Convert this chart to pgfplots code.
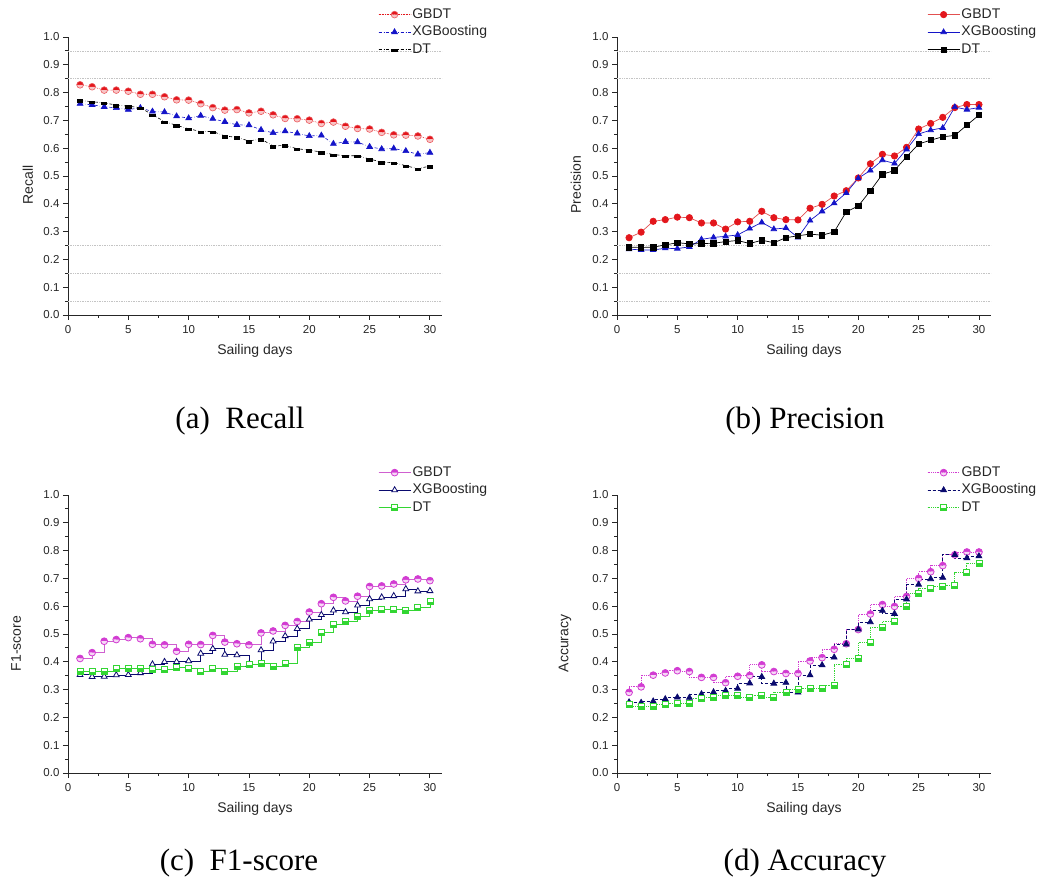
\documentclass[border=0pt]{standalone}
\usepackage{pgfplots}
\pgfplotsset{compat=1.18}
\usepackage{pgfplotstable}
\usetikzlibrary{plotmarks}
\usepackage{fontspec}
\setmainfont{Liberation Sans}
\newfontfamily\capfont{Liberation Serif}

\definecolor{aRed}{HTML}{E3161C}
\definecolor{aBlue}{HTML}{1414C8}
\definecolor{bRedLine}{HTML}{E25050}
\definecolor{mag}{HTML}{D23CD2}
\definecolor{magLine}{HTML}{D060D0}
\definecolor{navy}{HTML}{0A0A6E}
\definecolor{grn}{HTML}{33D633}
\definecolor{bandgray}{HTML}{C4C4C4}

% half-filled square: lower half filled with the fill colour, upper half white
\pgfdeclareplotmark{hsq}{%
  \pgfpathrectangle{\pgfqpoint{-\pgfplotmarksize}{-\pgfplotmarksize}}{\pgfqpoint{2\pgfplotmarksize}{\pgfplotmarksize}}%
  \pgfusepathqfill
  \begin{pgfscope}\pgfsetfillcolor{white}%
  \pgfpathrectangle{\pgfqpoint{-\pgfplotmarksize}{0pt}}{\pgfqpoint{2\pgfplotmarksize}{\pgfplotmarksize}}%
  \pgfusepathqfill\end{pgfscope}%
  \pgfpathrectangle{\pgfqpoint{-\pgfplotmarksize}{-\pgfplotmarksize}}{\pgfqpoint{2\pgfplotmarksize}{2\pgfplotmarksize}}%
  \pgfusepathqstroke
}
% filled bar (lower part of a square)
\pgfdeclareplotmark{hbar}{%
  \pgfpathrectangle{\pgfqpoint{-\pgfplotmarksize}{-0.8\pgfplotmarksize}}{\pgfqpoint{2\pgfplotmarksize}{1.1\pgfplotmarksize}}%
  \pgfusepathqfill
}

\pgfplotstableread{
x g xg d
1 0.828 0.760 0.772
2 0.821 0.756 0.767
3 0.809 0.749 0.763
4 0.809 0.745 0.755
5 0.805 0.739 0.751
6 0.794 0.745 0.746
7 0.794 0.732 0.720
8 0.785 0.730 0.696
9 0.774 0.715 0.682
10 0.773 0.708 0.670
11 0.760 0.717 0.660
12 0.746 0.706 0.660
13 0.737 0.695 0.644
14 0.739 0.684 0.639
15 0.727 0.683 0.626
16 0.733 0.666 0.633
17 0.720 0.655 0.608
18 0.707 0.661 0.610
19 0.706 0.653 0.598
20 0.701 0.644 0.593
21 0.689 0.646 0.586
22 0.694 0.616 0.577
23 0.679 0.623 0.573
24 0.671 0.622 0.573
25 0.669 0.605 0.561
26 0.657 0.597 0.550
27 0.648 0.599 0.548
28 0.647 0.590 0.537
29 0.644 0.578 0.526
30 0.632 0.584 0.536
}\recall

\pgfplotstableread{
x g xg d
1 0.278 0.237 0.244
2 0.298 0.234 0.243
3 0.337 0.234 0.244
4 0.343 0.240 0.252
5 0.352 0.239 0.260
6 0.350 0.245 0.256
7 0.331 0.272 0.257
8 0.331 0.279 0.258
9 0.309 0.283 0.264
10 0.335 0.288 0.268
11 0.337 0.311 0.257
12 0.373 0.333 0.269
13 0.350 0.309 0.260
14 0.343 0.313 0.278
15 0.342 0.279 0.285
16 0.384 0.340 0.291
17 0.398 0.373 0.287
18 0.428 0.402 0.299
19 0.447 0.439 0.371
20 0.493 0.492 0.392
21 0.544 0.520 0.447
22 0.578 0.557 0.506
23 0.572 0.545 0.520
24 0.603 0.596 0.569
25 0.669 0.651 0.615
26 0.689 0.665 0.629
27 0.711 0.673 0.641
28 0.746 0.748 0.646
29 0.757 0.739 0.683
30 0.757 0.746 0.719
}\precision

\pgfplotstableread{
x g xg d
1 0.412 0.353 0.366
2 0.433 0.346 0.364
3 0.474 0.347 0.366
4 0.480 0.352 0.375
5 0.487 0.353 0.378
6 0.483 0.360 0.378
7 0.463 0.391 0.372
8 0.461 0.400 0.372
9 0.438 0.400 0.379
10 0.463 0.403 0.375
11 0.462 0.430 0.364
12 0.495 0.447 0.375
13 0.471 0.426 0.366
14 0.465 0.424 0.384
15 0.461 0.390 0.389
16 0.504 0.442 0.396
17 0.511 0.474 0.385
18 0.531 0.493 0.393
19 0.545 0.519 0.452
20 0.579 0.553 0.470
21 0.609 0.569 0.505
22 0.632 0.585 0.533
23 0.619 0.579 0.545
24 0.636 0.603 0.564
25 0.671 0.626 0.585
26 0.673 0.632 0.587
27 0.680 0.637 0.588
28 0.695 0.662 0.585
29 0.698 0.654 0.594
30 0.692 0.655 0.616
}\fscore

\pgfplotstableread{
x g xg d
1 0.290 0.255 0.245
2 0.310 0.253 0.241
3 0.352 0.258 0.241
4 0.360 0.266 0.245
5 0.368 0.272 0.250
6 0.365 0.271 0.251
7 0.344 0.284 0.267
8 0.344 0.291 0.272
9 0.325 0.296 0.279
10 0.348 0.304 0.279
11 0.351 0.323 0.272
12 0.389 0.346 0.280
13 0.365 0.322 0.272
14 0.358 0.325 0.291
15 0.358 0.290 0.301
16 0.403 0.352 0.305
17 0.415 0.388 0.305
18 0.445 0.416 0.315
19 0.465 0.463 0.389
20 0.516 0.517 0.412
21 0.572 0.543 0.469
22 0.606 0.584 0.525
23 0.599 0.573 0.544
24 0.635 0.625 0.600
25 0.700 0.678 0.647
26 0.724 0.698 0.663
27 0.746 0.703 0.672
28 0.785 0.785 0.674
29 0.795 0.773 0.720
30 0.795 0.780 0.754
}\accuracy

\pgfplotsset{
  panel/.style={
    scale only axis, width=374pt, height=278pt,
    anchor=south west,
    xmin=0, xmax=31, ymin=0, ymax=1,
    axis x line*=bottom, axis y line*=left,
    axis line style={-, line width=0.9pt, black!85},
    xtick={0,5,10,15,20,25,30},
    ytick={0,0.1,0.2,0.3,0.4,0.5,0.6,0.7,0.8,0.9,1.0},
    minor x tick num=1, minor y tick num=1,
    tick align=outside, major tick length=5pt, minor tick length=3pt,
    every tick/.style={line width=0.9pt, black!85},
    /pgf/number format/assume math mode=true,
    yticklabel style={/pgf/number format/.cd, fixed, fixed zerofill, precision=1},
    ticklabel style={font=\fontsize{11.5}{12}\selectfont, text=black!85},
    xticklabel style={yshift=-2pt},
    xlabel={Sailing days},
    label style={font=\fontsize{14}{16}\selectfont, text=black!85},
    xlabel style={at={(axis description cs:0.5,-0.13)}, anchor=center},
    legend style={at={(axis description cs:0.829,1.11)}, anchor=north west,
      draw=none, fill=none, inner sep=0pt,
      font=\fontsize{14}{16}\selectfont,
      nodes={inner sep=1.5pt, text height=10pt, text depth=3pt, text=black!85},
      row sep=1.5pt},
    legend cell align=left,
    legend image code/.code={
      \draw[#1] (0pt,0pt) -- (32pt,0pt);
      \draw[mark repeat=2, mark phase=2, #1] plot coordinates {(0pt,0pt) (16pt,0pt) (32pt,0pt)};
    },
    clip=false,
  },
}

\begin{document}
\begin{tikzpicture}[x=1pt,y=1pt]
\path[use as bounding box] (0,0) rectangle (1043,892);

% ---------------- (a) Recall ----------------
\begin{axis}[panel, at={(68pt,577pt)}, ylabel={Recall},
  ylabel style={at={(axis description cs:-0.107,0.468)}, anchor=center}]
\foreach \v in {0.05,0.15,0.25,0.85,0.95}{
  \edef\tmp{\noexpand\draw[bandgray, densely dotted, line width=0.7pt] (axis cs:0,\v) -- (axis cs:31,\v);}\tmp
}
\addplot[color=aRed, densely dotted, line width=0.6pt, mark=halfcircle*, mark size=3.4pt,
  mark options={solid, fill=aRed, draw=aRed!70, mark color=aRed!25}] table[x=x,y=g] {\recall};
\addlegendentry{GBDT}
\addplot[color=aBlue, dash dot, line width=0.6pt, mark=triangle*, mark size=3.4pt,
  mark options={solid, fill=aBlue, draw=aBlue}] table[x=x,y=xg] {\recall};
\addlegendentry{XGBoosting}
\addplot[color=black, dash dot, line width=0.6pt, mark=hbar, mark size=3.2pt,
  mark options={solid, fill=black}] table[x=x,y=d] {\recall};
\addlegendentry{DT}
\end{axis}

% ---------------- (b) Precision ----------------
\begin{axis}[panel, at={(617pt,577pt)}, ylabel={Precision},
  ylabel style={at={(axis description cs:-0.110,0.468)}, anchor=center}]
\foreach \v in {0.05,0.15,0.25,0.85,0.95}{
  \edef\tmp{\noexpand\draw[bandgray, densely dotted, line width=0.7pt] (axis cs:0,\v) -- (axis cs:31,\v);}\tmp
}
\addplot[color=bRedLine, solid, line width=0.7pt, mark=*, mark size=3.2pt,
  mark options={fill=aRed, draw=aRed}] table[x=x,y=g] {\precision};
\addlegendentry{GBDT}
\addplot[color=aBlue, solid, line width=0.7pt, mark=triangle*, mark size=3.2pt,
  mark options={fill=aBlue, draw=aBlue}] table[x=x,y=xg] {\precision};
\addlegendentry{XGBoosting}
\addplot[color=black, solid, line width=0.7pt, mark=square*, mark size=2.7pt,
  mark options={fill=black, draw=black}] table[x=x,y=d] {\precision};
\addlegendentry{DT}
\end{axis}

% ---------------- (c) F1-score ----------------
\begin{axis}[panel, at={(68pt,119pt)}, ylabel={F1-score},
  ylabel style={at={(axis description cs:-0.139,0.466)}, anchor=center}]
\addplot[const plot mark left, color=magLine, solid, line width=0.8pt, mark=halfcircle*, mark size=3.4pt,
  mark options={fill=mag, draw=mag, mark color=mag!20}] table[x=x,y=g] {\fscore};
\addlegendentry{GBDT}
\addplot[const plot mark left, color=navy, solid, line width=0.8pt, mark=triangle*, mark size=3.4pt,
  mark options={fill=white, draw=navy}] table[x=x,y=xg] {\fscore};
\addlegendentry{XGBoosting}
\addplot[const plot mark left, color=grn, solid, line width=0.8pt, mark=hsq, mark size=3pt,
  mark options={fill=grn, draw=grn}] table[x=x,y=d] {\fscore};
\addlegendentry{DT}
\end{axis}

% ---------------- (d) Accuracy ----------------
\begin{axis}[panel, at={(617pt,119pt)}, ylabel={Accuracy},
  ylabel style={at={(axis description cs:-0.139,0.466)}, anchor=center}]
\addplot[const plot mark right, color=mag, densely dotted, line width=0.8pt, mark=halfcircle*, mark size=3.4pt,
  mark options={solid, fill=mag, draw=mag, mark color=mag!20}] table[x=x,y=g] {\accuracy};
\addlegendentry{GBDT}
\addplot[const plot mark right, color=navy, densely dashed, line width=0.7pt, mark=triangle*, mark size=3.4pt,
  mark options={solid, fill=navy, draw=navy}] table[x=x,y=xg] {\accuracy};
\addlegendentry{XGBoosting}
\addplot[const plot mark right, color=grn, densely dotted, line width=0.8pt, mark=hsq, mark size=3pt,
  mark options={solid, fill=grn, draw=grn}] table[x=x,y=d] {\accuracy};
\addlegendentry{DT}
\end{axis}

% captions
\node[font=\capfont\fontsize{31}{34}\selectfont] at (240,471) {(a)\enspace Recall};
\node[font=\capfont\fontsize{31}{34}\selectfont] at (805,471) {(b) Precision};
\node[font=\capfont\fontsize{31}{34}\selectfont] at (239,29) {(c)\enspace F1-score};
\node[font=\capfont\fontsize{31}{34}\selectfont] at (805,29) {(d) Accuracy};
\end{tikzpicture}
\end{document}
